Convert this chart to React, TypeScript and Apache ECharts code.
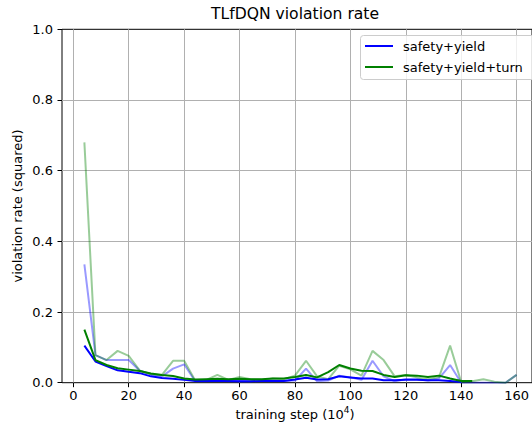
import React, { useEffect, useRef } from "react";
import * as echarts from "echarts";

const steps = [4, 8, 12, 16, 20, 24, 28, 32, 36, 40, 44, 48, 52, 56, 60, 64, 68, 72, 76, 80, 84, 88, 92, 96, 100, 104, 108, 112, 116, 120, 124, 128, 132, 136, 140, 144, 148, 152, 156, 160];

const blueRaw = [0.335, 0.078, 0.064, 0.064, 0.064, 0.034, 0.024, 0.018, 0.04, 0.052, 0.004, 0.004, 0.006, 0.004, 0.005, 0.004, 0.006, 0.006, 0.005, 0.006, 0.04, 0.004, 0.006, 0.02, 0.015, 0.008, 0.062, 0.018, 0.004, 0.01, 0.01, 0.006, 0.012, 0.05, 0.0, 0.0, 0.0, 0.0, 0.0, 0.022];

const greenRaw = [0.68, 0.078, 0.064, 0.09, 0.076, 0.034, 0.024, 0.022, 0.062, 0.062, 0.006, 0.008, 0.022, 0.008, 0.016, 0.01, 0.008, 0.012, 0.01, 0.02, 0.062, 0.018, 0.01, 0.048, 0.038, 0.02, 0.09, 0.064, 0.018, 0.022, 0.015, 0.01, 0.016, 0.105, 0.002, 0.004, 0.01, 0.003, 0.0, 0.022];

const blueSmooth = [0.105, 0.06, 0.047, 0.035, 0.031, 0.027, 0.018, 0.013, 0.011, 0.008, 0.005, 0.005, 0.005, 0.005, 0.004, 0.004, 0.005, 0.005, 0.005, 0.009, 0.014, 0.009, 0.01, 0.018, 0.015, 0.012, 0.012, 0.007, 0.007, 0.008, 0.008, 0.007, 0.007, 0.005, 0.002];

const greenSmooth = [0.15, 0.064, 0.05, 0.041, 0.037, 0.033, 0.026, 0.022, 0.019, 0.012, 0.009, 0.01, 0.011, 0.01, 0.011, 0.01, 0.01, 0.012, 0.012, 0.016, 0.022, 0.015, 0.03, 0.05, 0.04, 0.034, 0.033, 0.022, 0.016, 0.021, 0.02, 0.016, 0.02, 0.012, 0.005, 0.005];

const seriesNames = ["safety+yield", "safety+yield+turn"];
const titleText = "TLfDQN violation rate";
const yLabel = "violation rate (squared)";

const pair = (vals: number[]) => vals.map((v, i) => [steps[i], v]);

const FONT = "DejaVu Sans";

export default function App() {
  const ref = useRef<HTMLDivElement>(null);
  useEffect(() => {
    if (!ref.current) return;
    const chart = echarts.init(ref.current, undefined, { renderer: "svg" });
    const top = 29.3;
    const h = 353.4;
    chart.setOption({
      animation: false,
      textStyle: { fontFamily: FONT },
      grid: [
        { left: 73.3, width: 443.4, top, height: h },
        { left: 62, width: 476, top, height: h, show: true, borderColor: "#000", borderWidth: 1, backgroundColor: "transparent" },
      ],
      xAxis: [
        {
          type: "value", gridIndex: 0, min: 0, max: 160, interval: 20,
          axisLine: { show: false, onZero: false },
          axisTick: { show: true, length: 4.5, lineStyle: { color: "#000", width: 1 } },
          axisLabel: { show: true, margin: 6, fontSize: 13, color: "#000", fontFamily: FONT },
          splitLine: { show: true, lineStyle: { color: "#b0b0b0", width: 1 } },
        },
        {
          type: "value", gridIndex: 1, min: 0, max: 1,
          axisLine: { show: false }, axisTick: { show: false }, axisLabel: { show: false }, splitLine: { show: false },
        },
      ],
      yAxis: [
        {
          type: "value", gridIndex: 0, min: 0, max: 1,
          axisLine: { show: false }, axisTick: { show: false }, axisLabel: { show: false }, splitLine: { show: false },
        },
        {
          type: "value", gridIndex: 1, min: 0, max: 1, interval: 0.2,
          axisLine: { show: false },
          axisTick: { show: true, length: 4.5, lineStyle: { color: "#000", width: 1 } },
          axisLabel: { show: true, margin: 9, fontSize: 13, color: "#000", fontFamily: FONT, formatter: (v: number) => v.toFixed(1) },
          splitLine: { show: true, showMinLine: false, showMaxLine: false, lineStyle: { color: "#b0b0b0", width: 1 } },
        },
      ],
      series: [
        { name: seriesNames[0] + " raw", type: "line", xAxisIndex: 0, yAxisIndex: 0, data: pair(blueRaw), showSymbol: false, lineStyle: { color: "#0000ff", width: 2, opacity: 0.4 }, itemStyle: { color: "#0000ff" } },
        { name: seriesNames[1] + " raw", type: "line", xAxisIndex: 0, yAxisIndex: 0, data: pair(greenRaw), showSymbol: false, lineStyle: { color: "#008000", width: 2, opacity: 0.4 }, itemStyle: { color: "#008000" } },
        { name: seriesNames[0], type: "line", xAxisIndex: 0, yAxisIndex: 0, data: pair(blueSmooth), showSymbol: false, lineStyle: { color: "#0000ff", width: 2 }, itemStyle: { color: "#0000ff" } },
        { name: seriesNames[1], type: "line", xAxisIndex: 0, yAxisIndex: 0, data: pair(greenSmooth), showSymbol: false, lineStyle: { color: "#008000", width: 2 }, itemStyle: { color: "#008000" } },
      ],
      graphic: [
        { type: "text", x: 295, y: 14, style: { text: titleText, fontSize: 15.6, fill: "#000", fontFamily: FONT, align: "center", verticalAlign: "middle" } },
        { type: "text", x: 17, y: 206, rotation: Math.PI / 2, style: { text: yLabel, fontSize: 13, fill: "#000", fontFamily: FONT, align: "center", verticalAlign: "middle" } },
        {
          type: "text", x: 295, y: 413,
          style: {
            text: "{a|training step (10}{b|4}{a|)}",
            align: "center", verticalAlign: "middle",
            rich: {
              a: { fontSize: 13, fill: "#000", fontFamily: FONT, lineHeight: 16, verticalAlign: "bottom" },
              b: { fontSize: 9, fill: "#000", fontFamily: FONT, lineHeight: 9, verticalAlign: "top" },
            },
          },
        },
        { type: "rect", shape: { x: 360.5, y: 35.5, width: 180, height: 44, r: 3 }, style: { fill: "rgba(255,255,255,0.8)", stroke: "#cccccc", lineWidth: 1 }, z: 10 },
        { type: "line", shape: { x1: 365, y1: 46, x2: 393, y2: 46 }, style: { stroke: "#0000ff", lineWidth: 2 }, z: 11 },
        { type: "line", shape: { x1: 365, y1: 67, x2: 393, y2: 67 }, style: { stroke: "#008000", lineWidth: 2 }, z: 11 },
        { type: "text", x: 403, y: 46, style: { text: seriesNames[0], fontSize: 13, fill: "#000", fontFamily: FONT, verticalAlign: "middle" }, z: 11 },
        { type: "text", x: 403, y: 67, style: { text: seriesNames[1], fontSize: 13, fill: "#000", fontFamily: FONT, verticalAlign: "middle" }, z: 11 },
      ],
    });
    return () => chart.dispose();
  }, []);
  return <div ref={ref} style={{ position: "absolute", left: 0, top: 0, width: 532, height: 432, background: "#fff" }} />;
}
